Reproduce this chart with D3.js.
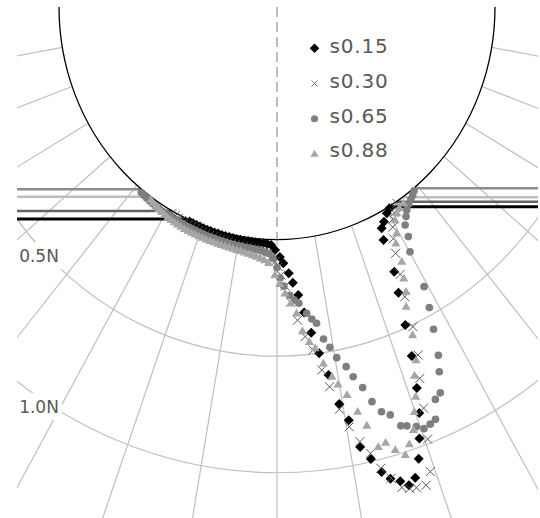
<!DOCTYPE html>
<html>
<head>
<meta charset="utf-8">
<script src="https://cdn.jsdelivr.net/npm/d3@7"></script>
<style>
  body { margin: 0; background: #fff; }
  svg { display: block; }
</style>
</head>
<body>
<svg id="chart" width="540" height="518"></svg>
<script>
// Normal stress around the wheel rim: [angle in degrees from the bottom (positive = front), force in N]
const seriesNames = ["s0.15", "s0.30", "s0.65", "s0.88"];

const s015 = [
  [-23.5,0.005],[-22.5,0.006],[-21.5,0.007],[-20.5,0.008],[-19.5,0.009],[-18.5,0.01],[-17.5,0.01],
  [-16.5,0.011],[-15.5,0.011],[-14.5,0.012],[-13.5,0.012],[-12.5,0.013],[-11.5,0.013],[-10.5,0.014],
  [-9.5,0.014],[-8.5,0.015],[-7.5,0.015],[-6.5,0.016],[-5.5,0.016],[-4.5,0.017],[-3.5,0.018],
  [-2.5,0.02],[-1.5,0.024],[-0.5,0.045],[0.7,0.075],[1.5,0.102],[2.7,0.146],[3.5,0.187],[4.5,0.241],
  [5.4,0.319],[6.4,0.408],[7.4,0.5],[8.5,0.598],[9.5,0.729],[10.5,0.805],[11.4,0.928],[12.5,0.988],
  [13.5,1.054],[14.4,1.091],[15.5,1.113],[16.4,1.141],[17.4,1.118],[18.5,1.046],[19.4,0.965],
  [20.5,0.862],[21.4,0.757],[22.4,0.621],[23.3,0.487],[24.4,0.348],[25.3,0.258],[26.0,0.114],
  [26.8,0.065],[28.0,0.045],[29.6,0.02],[30.8,0.007]
];

const s030 = [
  [-28.5,0.01],[-27.5,0.012],[-26.5,0.014],[-25.5,0.016],[-24.5,0.018],[-23.5,0.02],[-22.5,0.022],
  [-21.5,0.024],[-20.5,0.025],[-19.5,0.026],[-18.5,0.028],[-17.5,0.03],[-16.5,0.03],[-15.5,0.032],
  [-14.5,0.033],[-13.5,0.034],[-12.5,0.035],[-11.5,0.036],[-10.5,0.038],[-9.5,0.04],[-8.5,0.041],
  [-7.5,0.042],[-6.5,0.044],[-5.5,0.046],[-4.5,0.05],[-3.5,0.055],[-2.5,0.062],[-1.5,0.075],
  [-0.5,0.095],[0.3,0.116],[0.9,0.152],[1.8,0.2],[2.8,0.27],[4.0,0.349],[5.2,0.422],[6.4,0.483],
  [7.5,0.573],[8.4,0.649],[9.4,0.751],[10.4,0.833],[11.5,0.905],[12.6,0.964],[13.5,1.037],
  [14.5,1.09],[15.5,1.141],[16.4,1.155],[17.2,1.161],[18.4,1.164],[19.4,1.115],[20.4,0.98],
  [21.3,0.849],[22.3,0.724],[23.4,0.629],[24.4,0.508],[25.2,0.376],[26.2,0.28],[27.2,0.19],
  [28.2,0.13],[29.3,0.085],[30.3,0.055],[31.3,0.035],[32.3,0.02],[33.1,0.008]
];

const s065 = [
  [-38,0.012],[-37,0.014],[-36,0.016],[-35,0.018],[-34,0.02],[-33,0.021],[-32,0.022],[-31,0.023],
  [-30,0.024],[-29,0.025],[-28,0.026],[-27,0.027],[-26,0.028],[-25,0.029],[-24,0.03],[-23,0.03],
  [-22,0.031],[-21,0.032],[-20,0.033],[-19,0.034],[-18,0.035],[-17,0.035],[-16,0.036],[-15,0.037],
  [-14,0.038],[-13,0.039],[-12,0.04],[-11,0.04],[-10,0.041],[-9,0.042],[-8,0.043],[-7,0.044],
  [-6,0.045],[-5,0.047],[-4,0.05],[-3,0.055],[-2,0.06],[-1,0.08],[0,0.12],[0.7,0.165],[1.5,0.2],
  [2.7,0.24],[3.6,0.262],[4.5,0.277],[5.9,0.323],[6.8,0.35],[7.6,0.371],[8.5,0.442],[9.4,0.482],
  [10.3,0.531],[11.6,0.577],[12.4,0.626],[13.5,0.681],[14.4,0.75],[15.4,0.803],[16.5,0.827],
  [17.5,0.886],[18.3,0.895],[19.5,0.912],[20.4,0.932],[21.4,0.924],[22.3,0.914],[23.3,0.835],
  [24.3,0.818],[25.4,0.734],[26.3,0.669],[27.4,0.559],[28.4,0.468],[29.3,0.378],[30.1,0.216],
  [31.4,0.156],[32.1,0.106],[33.3,0.078],[34.3,0.056],[35.5,0.04],[36.6,0.03],[37.6,0.02],[38.5,0.01]
];

const s088 = [
  [-35,0.01],[-34,0.015],[-33,0.02],[-32,0.024],[-31,0.028],[-30,0.031],[-29,0.034],[-28,0.036],
  [-27,0.038],[-26,0.04],[-25,0.042],[-24,0.044],[-23,0.045],[-22,0.046],[-21,0.047],[-20,0.048],
  [-19,0.049],[-18,0.05],[-17,0.051],[-16,0.052],[-15,0.053],[-14,0.054],[-13,0.055],[-12,0.056],
  [-11,0.058],[-10,0.06],[-9,0.062],[-8,0.065],[-7,0.068],[-6,0.072],[-5,0.077],[-4,0.083],
  [-3,0.09],[-2,0.1],[-0.5,0.152],[0.6,0.19],[1.7,0.231],[2.8,0.275],[3.9,0.319],[4.8,0.397],
  [5.9,0.446],[6.8,0.476],[7.9,0.546],[9.0,0.608],[9.8,0.645],[10.9,0.697],[12.0,0.777],
  [12.9,0.844],[13.8,0.945],[14.9,0.936],[15.9,0.978],[17.0,1.011],[17.9,0.973],[19.0,0.921],
  [19.9,0.849],[20.8,0.79],[21.7,0.704],[22.8,0.645],[23.8,0.54],[24.7,0.417],[25.8,0.359],
  [26.5,0.303],[27.6,0.235],[28.2,0.153],[29.4,0.117],[30.6,0.064],[31.8,0.043],[33.0,0.03],[34.5,0.024]
];

// Soil surface: angle where each surface meets the rim, rear (left) and front (right)
const rearSurfaceAngle  = [-24.3, -28.7, -38.4, -35.3];
const frontSurfaceAngle = [30.8, 33.2, 38.8, 35.1];

// Radial grid
const forceTicks = [0.5, 1.0];
const forceTickLabels = ["0.5N", "1.0N"];
const spokeAngles = [-80, -70, -60, -50, -40, -30, -20, -10, 0, 10, 20, 30, 40, 50, 60, 70, 80];

// ---- geometry ----
const svg = d3.select("#chart");
const plot = { x0: 17, y0: 7, x1: 538, y1: 518 };
const cx = 277, cy = 7, yStretch = 1.067;
const rScale = d3.scaleLinear().domain([0, 1]).range([218, 436.5]);
const wheelR = rScale(0);

// angle measured from the downward vertical, clockwise toward the front
function pos(angleDeg, force) {
  const a = Math.PI - angleDeg * Math.PI / 180;
  const [px, py] = d3.pointRadial(a, rScale(force));
  return [cx + px, cy + py * yStretch];
}

const colors = ["#000000", "#595959", "#7f7f7f", "#a6a6a6"];
const surfaceColors = ["#000000", "#646464", "#8c8c8c", "#bdbdbd"];

svg.append("defs").append("clipPath").attr("id", "plotClip")
  .append("rect")
  .attr("x", plot.x0).attr("y", plot.y0)
  .attr("width", plot.x1 - plot.x0).attr("height", plot.y1 - plot.y0);

const g = svg.append("g").attr("clip-path", "url(#plotClip)");

// spokes from rim outward
g.append("g").selectAll("line").data(spokeAngles).join("line")
  .attr("x1", d => pos(d, 0)[0]).attr("y1", d => pos(d, 0)[1])
  .attr("x2", d => pos(d, 2.2)[0]).attr("y2", d => pos(d, 2.2)[1])
  .attr("stroke", "#bfbfbf").attr("stroke-width", 1.2);

// force rings
g.append("g").selectAll("ellipse").data(forceTicks).join("ellipse")
  .attr("cx", cx).attr("cy", cy)
  .attr("rx", d => rScale(d)).attr("ry", d => rScale(d) * yStretch)
  .attr("fill", "none").attr("stroke", "#bfbfbf").attr("stroke-width", 1.2);

// ring labels on a white patch at the left edge
const labelX = 39;
const labels = g.append("g").selectAll("g").data(forceTicks).join("g")
  .attr("transform", d => {
    const r = rScale(d);
    const yArc = cy + yStretch * Math.sqrt(r * r - (labelX - cx) * (labelX - cx));
    return `translate(${labelX},${yArc + 9})`;
  });
labels.append("rect")
  .attr("x", -22).attr("y", -13.5).attr("width", 45).attr("height", 27)
  .attr("fill", "#fff");
labels.append("text")
  .attr("text-anchor", "middle").attr("dy", "0.36em")
  .attr("font-family", "DejaVu Sans, Verdana, sans-serif")
  .attr("font-size", 17).attr("fill", "#595959")
  .text((d, i) => forceTickLabels[i]);

// soil surface lines, rear and front
const surf = g.append("g");
rearSurfaceAngle.forEach((a, i) => {
  const [x, y] = pos(a, 0);
  surf.append("line").attr("x1", plot.x0).attr("x2", x).attr("y1", y).attr("y2", y)
    .attr("stroke", surfaceColors[i]).attr("stroke-width", i === 0 ? 3 : 2.5);
});
frontSurfaceAngle.forEach((a, i) => {
  const [x, y] = pos(a, 0);
  surf.append("line").attr("x1", x).attr("x2", plot.x1).attr("y1", y).attr("y2", y)
    .attr("stroke", surfaceColors[i]).attr("stroke-width", i === 0 ? 3 : 2.5);
});

// wheel rim and its vertical axis
g.append("ellipse")
  .attr("cx", cx).attr("cy", cy).attr("rx", wheelR).attr("ry", wheelR * yStretch)
  .attr("fill", "none").attr("stroke", "#000").attr("stroke-width", 1.3);
g.append("line")
  .attr("x1", cx).attr("x2", cx).attr("y1", plot.y0).attr("y2", pos(0, 0)[1])
  .attr("stroke", "#a6a6a6").attr("stroke-width", 1.5).attr("stroke-dasharray", "10,5");

// marker shapes
const diamond = { draw(ctx, size) { const r = Math.sqrt(size / 2);
  ctx.moveTo(0, -r); ctx.lineTo(r, 0); ctx.lineTo(0, r); ctx.lineTo(-r, 0); ctx.closePath(); } };
const cross = { draw(ctx, size) { const r = Math.sqrt(size) / 2;
  ctx.moveTo(-r, -r); ctx.lineTo(r, r); ctx.moveTo(-r, r); ctx.lineTo(r, -r); } };
const dot = { draw(ctx, size) { const r = Math.sqrt(size / Math.PI);
  ctx.moveTo(r, 0); ctx.arc(0, 0, r, 0, 2 * Math.PI); } };
const tri = { draw(ctx, size) { const w = Math.sqrt(size * 1.2), h = w * 0.85;
  ctx.moveTo(0, -h * 0.6); ctx.lineTo(w / 2, h * 0.4); ctx.lineTo(-w / 2, h * 0.4); ctx.closePath(); } };

const markerTypes = [diamond, cross, dot, tri];
const markerSizes = [50, 81, 46, 70];
const allSeries = [s015, s030, s065, s088];

function styleMarker(sel, i) {
  if (i === 1) sel.attr("fill", "none").attr("stroke", colors[i]).attr("stroke-width", 1);
  else sel.attr("fill", colors[i]).attr("stroke", "none");
}

allSeries.forEach((data, i) => {
  const sym = d3.symbol().type(markerTypes[i]).size(markerSizes[i]);
  g.append("g").selectAll("path").data(data).join("path")
    .attr("transform", d => `translate(${pos(d[0], d[1])})`)
    .attr("d", sym)
    .call(styleMarker, i);
});

// legend
const legend = svg.append("g");
seriesNames.forEach((name, i) => {
  const sizes = [46, 36, 40, 55];
  const my = 48.3 + i * 35.2;
  legend.append("path")
    .attr("transform", `translate(314.5,${my})`)
    .attr("d", d3.symbol().type(markerTypes[i]).size(sizes[i]))
    .call(sel => {
      if (i === 1) sel.attr("fill", "none").attr("stroke", "#7f7f7f").attr("stroke-width", 1);
      else sel.attr("fill", colors[i]);
    });
  legend.append("text")
    .attr("x", 329.5).attr("y", 53.3 + i * 34.7)
    .attr("font-family", "DejaVu Sans, Verdana, sans-serif")
    .attr("font-size", 20).attr("letter-spacing", 0.8)
    .attr("fill", "#595959")
    .text(name);
});
</script>
</body>
</html>
